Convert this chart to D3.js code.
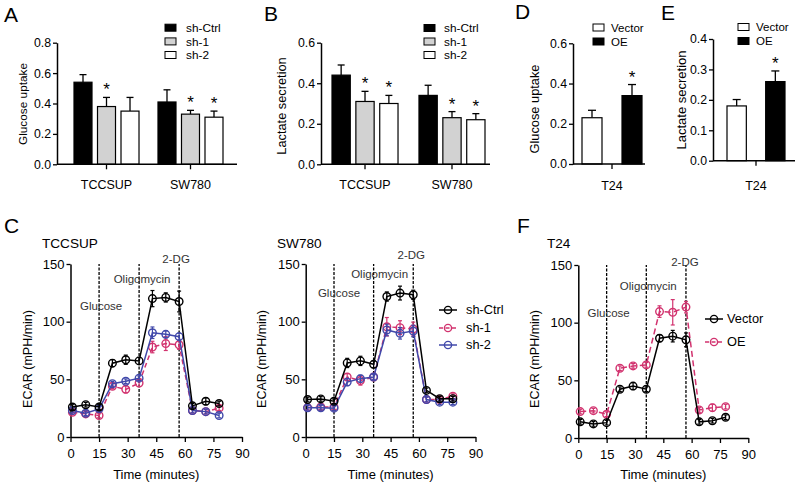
<!DOCTYPE html>
<html><head><meta charset="utf-8">
<script src="https://cdn.jsdelivr.net/npm/d3@7"></script>
<style>
body{margin:0;background:#fff}
svg{display:block;font-family:"Liberation Sans",Arial,Helvetica,sans-serif}
</style>
</head><body>
<svg id="chart" width="800" height="490"></svg>
<script>
// ---------------- DATA ----------------
const barGroups = ["TCCSUP", "SW780"];
const shSeries = ["sh-Ctrl", "sh-1", "sh-2"];
const glucoseMean = [[0.54, 0.38, 0.35], [0.41, 0.33, 0.31]];
const glucoseErr  = [[0.05, 0.06, 0.09], [0.08, 0.025, 0.04]];
const glucoseSig  = [[false, true, false], [false, true, true]];
const lactateMean = [[0.44, 0.31, 0.30], [0.34, 0.23, 0.22]];
const lactateErr  = [[0.05, 0.05, 0.04], [0.05, 0.03, 0.03]];
const lactateSig  = [[false, true, true], [false, true, true]];

const oeGroups = ["T24"];
const oeSeries = ["Vector", "OE"];
const oeGlucoseMean = [[0.23, 0.34]];
const oeGlucoseErr  = [[0.037, 0.055]];
const oeLactateMean = [[0.18, 0.26]];
const oeLactateErr  = [[0.021, 0.035]];
const oeSig = [[false, true]];

const timeMinutes = [1, 8, 15, 22, 29, 36, 43, 50, 57, 64, 71, 78];
const injectionTimes = [15, 36, 57];
const injectionNames = ["Glucose", "Oligomycin", "2-DG"];
const ecarTicksX = [0, 15, 30, 45, 60, 75, 90];
const ecarTicksY = [0, 50, 100, 150];

const tccsupCtrl = [26, 28, 26, 64, 67, 66, 120, 121, 117.5, 27, 31, 29];
const tccsupCtrlErr = [2, 2, 2, 3, 4, 3, 7, 4, 9, 2, 3, 2];
const tccsupSh1 = [21.5, 20, 18.6, 44, 41.3, 46.8, 78, 81, 80, 23, 22, 25];
const tccsupSh1Err = [2, 2, 2, 2, 3, 3, 5, 6, 4, 2, 2, 2];
const tccsupSh2 = [23, 20.6, 24.4, 46.2, 48.3, 51, 90.4, 89, 87, 23, 22, 18.6];
const tccsupSh2Err = [2, 2, 2, 2, 2, 2, 5, 3, 3, 2, 2, 2];

const sw780Ctrl = [32.5, 33, 31, 64.2, 66, 63, 121.8, 124.8, 123.3, 40.4, 33.2, 33.2];
const sw780CtrlErr = [2, 2, 2, 4, 4, 3, 4, 6, 4, 2, 2, 2];
const sw780Sh1 = [25.5, 26, 26, 52, 49, 52, 95.6, 94.8, 93.6, 32.5, 32.5, 35.4];
const sw780Sh1Err = [2, 2, 2, 3, 4, 3, 8, 6, 6, 2, 2, 2];
const sw780Sh2 = [25.3, 25.3, 25, 47.6, 50.6, 52, 92.8, 89.9, 91.9, 32.5, 30.2, 30.2];
const sw780Sh2Err = [2, 2, 2, 3, 3, 2, 5, 5, 5, 2, 2, 2];

const t24Vector = [14, 12.2, 13.3, 42.3, 45, 42.3, 86.5, 88.3, 85.1, 14, 15, 18];
const t24VectorErr = [2, 2, 2, 2, 3, 2, 3, 5, 6, 2, 2, 2];
const t24OE = [22.9, 23.7, 20.6, 60.5, 62.5, 63.4, 109.6, 109, 113.5, 24.3, 26.3, 27.2];
const t24OEErr = [2, 2, 2, 2, 2, 2, 5, 11, 5, 2, 3, 2];

// ---------------- STYLE ----------------
const BLACK = "#000", PINK = "#d2336f", BLUE = "#4048aa";
const svg = d3.select("#chart");

function styleAxis(sel, fs) {
  sel.selectAll(".domain").attr("stroke", "#000").attr("stroke-width", 1.5);
  sel.selectAll(".tick line").attr("stroke", "#000").attr("stroke-width", 1.3);
  sel.selectAll(".tick text").attr("font-size", fs).attr("fill", "#000")
     .attr("font-family", "Liberation Sans, Arial, sans-serif");
}

// ---------------- BAR PANELS ----------------
function barPanel(cfg) {
  const g = svg.append("g");
  const y = d3.scaleLinear().domain([0, cfg.yMax]).range([cfg.y0, cfg.yTop]);
  const x0 = d3.scaleBand().domain(cfg.groups).range(cfg.barRange)
    .paddingInner(cfg.groupPad).paddingOuter(0);
  const x1 = d3.scaleBand().domain(cfg.series).range([0, x0.bandwidth()])
    .paddingInner(cfg.barPad);

  cfg.groups.forEach((grp, gi) => {
    cfg.series.forEach((s, si) => {
      const m = cfg.means[gi][si], e = cfg.errs[gi][si];
      const bx = x0(grp) + x1(s), bw = x1.bandwidth(), cx = bx + bw / 2;
      g.append("line").attr("x1", cx).attr("x2", cx)
        .attr("y1", y(m)).attr("y2", y(m + e))
        .attr("stroke", "#000").attr("stroke-width", 1.3);
      g.append("line").attr("x1", cx - cfg.cap).attr("x2", cx + cfg.cap)
        .attr("y1", y(m + e)).attr("y2", y(m + e))
        .attr("stroke", "#000").attr("stroke-width", 1.3);
      g.append("rect").attr("x", bx).attr("width", bw)
        .attr("y", y(m)).attr("height", y(0) - y(m))
        .attr("fill", cfg.fills[si]).attr("stroke", "#000").attr("stroke-width", 1.2);
      if (cfg.sig[gi][si]) {
        g.append("text").attr("x", cx).attr("y", y(m + e) - 2)
          .attr("text-anchor", "middle").attr("font-size", 17).text("*");
      }
    });
  });

  const ya = d3.axisLeft(y).tickValues(cfg.yTicks).tickFormat(d3.format(".1f"))
    .tickSize(4).tickPadding(2).tickSizeOuter(0);
  g.append("g").attr("transform", `translate(${cfg.axisX},0)`).call(ya)
    .call(s => styleAxis(s, 12.3));

  g.append("line").attr("x1", cfg.axisX).attr("x2", cfg.axisEnd)
    .attr("y1", cfg.y0).attr("y2", cfg.y0)
    .attr("stroke", "#000").attr("stroke-width", 1.5);
  const xa = d3.axisBottom(x0).tickSize(5).tickPadding(cfg.catPad).tickSizeOuter(0);
  g.append("g").attr("transform", `translate(0,${cfg.y0})`).call(xa)
    .call(s => { s.select(".domain").remove(); styleAxis(s, 12.5); });

  g.append("text")
    .attr("transform", `translate(${cfg.yLabelX},${cfg.yLabelY}) rotate(-90)`)
    .attr("text-anchor", "middle").attr("dy", "0.35em")
    .attr("font-size", cfg.yLabelSize).text(cfg.yLabel);

  // legend
  const lg = g.append("g");
  cfg.series.forEach((s, si) => {
    const ly = cfg.legendY[si];
    lg.append("rect").attr("x", cfg.legendX).attr("y", ly - 3.5)
      .attr("width", 11).attr("height", 7)
      .attr("fill", cfg.fills[si]).attr("stroke", "#000").attr("stroke-width", 1);
    lg.append("text").attr("x", cfg.legendTextX).attr("y", ly).attr("dy", "0.35em")
      .attr("font-size", cfg.legendSize).text(s);
  });
}

const shFills = ["#000", "#d2d2d2", "#fff"];
const oeFills = ["#fff", "#000"];

barPanel({
  groups: barGroups, series: shSeries, means: glucoseMean, errs: glucoseErr, sig: glucoseSig,
  fills: shFills, yMax: 0.8, yTicks: [0, 0.2, 0.4, 0.6, 0.8], y0: 164.3, yTop: 42.7,
  axisX: 57, axisEnd: 237, barRange: [74, 223], groupPad: 0.226, barPad: 0.234, cap: 3.5,
  catPad: 11, yLabel: "Glucose uptake", yLabelX: 23, yLabelY: 104, yLabelSize: 11.8,
  legendX: 165, legendTextX: 186, legendY: [27.7, 41.4, 55], legendSize: 11.8
});
barPanel({
  groups: barGroups, series: shSeries, means: lactateMean, errs: lactateErr, sig: lactateSig,
  fills: shFills, yMax: 0.6, yTicks: [0, 0.2, 0.4, 0.6], y0: 164.3, yTop: 42.7,
  axisX: 321, axisEnd: 490, barRange: [332, 485], groupPad: 0.241, barPad: 0.234, cap: 3.5,
  catPad: 11, yLabel: "Lactate secretion", yLabelX: 282, yLabelY: 106, yLabelSize: 12.8,
  legendX: 424, legendTextX: 444, legendY: [28, 41.5, 55], legendSize: 11.8
});
barPanel({
  groups: oeGroups, series: oeSeries, means: oeGlucoseMean, errs: oeGlucoseErr, sig: oeSig,
  fills: oeFills, yMax: 0.6, yTicks: [0, 0.2, 0.4, 0.6], y0: 164, yTop: 43.3,
  axisX: 573, axisEnd: 645, barRange: [582, 642], groupPad: 0, barPad: 0.5, cap: 4,
  catPad: 12, yLabel: "Glucose uptake", yLabelX: 535, yLabelY: 109, yLabelSize: 12.8,
  legendX: 593, legendTextX: 611, legendY: [27.5, 41.5], legendSize: 11.5
});
barPanel({
  groups: oeGroups, series: oeSeries, means: oeLactateMean, errs: oeLactateErr, sig: oeSig,
  fills: oeFills, yMax: 0.4, yTicks: [0, 0.1, 0.2, 0.3, 0.4], y0: 160.7, yTop: 39,
  axisX: 713, axisEnd: 795, barRange: [727, 785], groupPad: 0, barPad: 0.5, cap: 4,
  catPad: 15, yLabel: "Lactate secretion", yLabelX: 681, yLabelY: 100, yLabelSize: 13,
  legendX: 738, legendTextX: 756, legendY: [27, 41], legendSize: 11.5
});

// ---------------- ECAR PANELS ----------------
function ecarPanel(cfg) {
  const g = svg.append("g");
  const x = d3.scaleLinear().domain([0, 90]).range([cfg.x0, cfg.x90]);
  const y = d3.scaleLinear().domain([0, 150]).range([cfg.y0, cfg.y150]);

  injectionTimes.forEach((t, i) => {
    g.append("line").attr("x1", x(t)).attr("x2", x(t))
      .attr("y1", y(0)).attr("y2", y(150))
      .attr("stroke", "#000").attr("stroke-width", 1.3).attr("stroke-dasharray", "3,1.5");
    g.append("text").attr("x", x(t) + cfg.annDx[i]).attr("y", y(cfg.annY[i]))
      .attr("text-anchor", "middle").attr("font-size", 11.5).attr("fill", "#333")
      .text(injectionNames[i]);
  });

  const xa = d3.axisBottom(x).tickValues(ecarTicksX).tickSize(5).tickPadding(7).tickSizeOuter(0);
  g.append("g").attr("transform", `translate(0,${cfg.y0})`).call(xa).call(s => styleAxis(s, 13));
  const ya = d3.axisLeft(y).tickValues(ecarTicksY).tickSize(4).tickPadding(2).tickSizeOuter(0);
  g.append("g").attr("transform", `translate(${cfg.x0},0)`).call(ya).call(s => styleAxis(s, 13));

  const line = d3.line().x((d, i) => x(timeMinutes[i])).y(d => y(d));
  cfg.series.forEach(s => {
    const sg = g.append("g");
    sg.append("path").attr("d", line(s.values)).attr("fill", "none")
      .attr("stroke", s.color).attr("stroke-width", 1.5)
      .attr("stroke-dasharray", s.dash || null);
    s.values.forEach((v, i) => {
      const cx = x(timeMinutes[i]), e = s.errs[i];
      sg.append("line").attr("x1", cx).attr("x2", cx).attr("y1", y(v - e)).attr("y2", y(v + e))
        .attr("stroke", s.color).attr("stroke-width", 1.2);
      [v - e, v + e].forEach(w => sg.append("line").attr("x1", cx - 2).attr("x2", cx + 2)
        .attr("y1", y(w)).attr("y2", y(w)).attr("stroke", s.color).attr("stroke-width", 1.2));
      sg.append("circle").attr("cx", cx).attr("cy", y(v)).attr("r", 3.8)
        .attr("fill", "none").attr("stroke", s.color).attr("stroke-width", 1.4);
    });
  });

  if (cfg.legend) {
    cfg.legend.items.forEach((s, i) => {
      const ly = cfg.legend.y[i];
      g.append("line").attr("x1", cfg.legend.x).attr("x2", cfg.legend.x + 18)
        .attr("y1", ly).attr("y2", ly).attr("stroke", s.color).attr("stroke-width", 1.5)
        .attr("stroke-dasharray", s.dash ? "4,2.5" : null);
      g.append("circle").attr("cx", cfg.legend.x + 9).attr("cy", ly).attr("r", 3.6)
        .attr("fill", "none").attr("stroke", s.color).attr("stroke-width", 1.4);
      g.append("text").attr("x", cfg.legend.textX).attr("y", ly).attr("dy", "0.35em")
        .attr("font-size", 12.8).text(s.name);
    });
  }

  g.append("text").attr("x", cfg.titleX).attr("y", 248).attr("font-size", 13.6).text(cfg.title);
  g.append("text")
    .attr("transform", `translate(${cfg.yLabelX},359) rotate(-90)`)
    .attr("text-anchor", "middle").attr("dy", "0.35em").attr("font-size", 12.5)
    .text("ECAR (mPH/min)");
  g.append("text").attr("x", x(45)).attr("y", 479).attr("text-anchor", "middle")
    .attr("font-size", 13).text("Time (minutes)");
}

ecarPanel({
  x0: 70.5, x90: 242, y0: 437, y150: 264, title: "TCCSUP", titleX: 42, yLabelX: 28,
  annY: [110, 133.5, 151], annDx: [2, 3, -3],
  series: [
    { values: tccsupSh1, errs: tccsupSh1Err, color: PINK, dash: "5,3" },
    { values: tccsupSh2, errs: tccsupSh2Err, color: BLUE },
    { values: tccsupCtrl, errs: tccsupCtrlErr, color: BLACK }
  ]
});
ecarPanel({
  x0: 305.7, x90: 475.5, y0: 437, y150: 264, title: "SW780", titleX: 277, yLabelX: 262,
  annY: [121, 137.5, 154], annDx: [5, 6, -2],
  series: [
    { values: sw780Sh1, errs: sw780Sh1Err, color: PINK, dash: "5,3" },
    { values: sw780Sh2, errs: sw780Sh2Err, color: BLUE },
    { values: sw780Ctrl, errs: sw780CtrlErr, color: BLACK }
  ],
  legend: { x: 439, textX: 466, y: [310, 328, 345],
    items: [{ name: shSeries[0], color: BLACK }, { name: shSeries[1], color: PINK, dash: true },
            { name: shSeries[2], color: BLUE }] }
});
ecarPanel({
  x0: 578.3, x90: 748.3, y0: 438, y150: 265, title: "T24", titleX: 547, yLabelX: 535,
  annY: [105, 128, 149.5], annDx: [2, 2, -1],
  series: [
    { values: t24OE, errs: t24OEErr, color: PINK, dash: "6,3.5" },
    { values: t24Vector, errs: t24VectorErr, color: BLACK }
  ],
  legend: { x: 705, textX: 727, y: [319, 342],
    items: [{ name: oeSeries[0], color: BLACK }, { name: oeSeries[1], color: PINK, dash: true }] }
});

// ---------------- PANEL LETTERS ----------------
const letters = [["A", 4, 22], ["B", 264, 20.5], ["D", 515, 19], ["E", 661, 19.5], ["C", 4, 233], ["F", 517, 233]];
letters.forEach(([t, lx, ly]) => svg.append("text").attr("x", lx).attr("y", ly)
  .attr("font-size", 21).text(t));
</script>
</body></html>
